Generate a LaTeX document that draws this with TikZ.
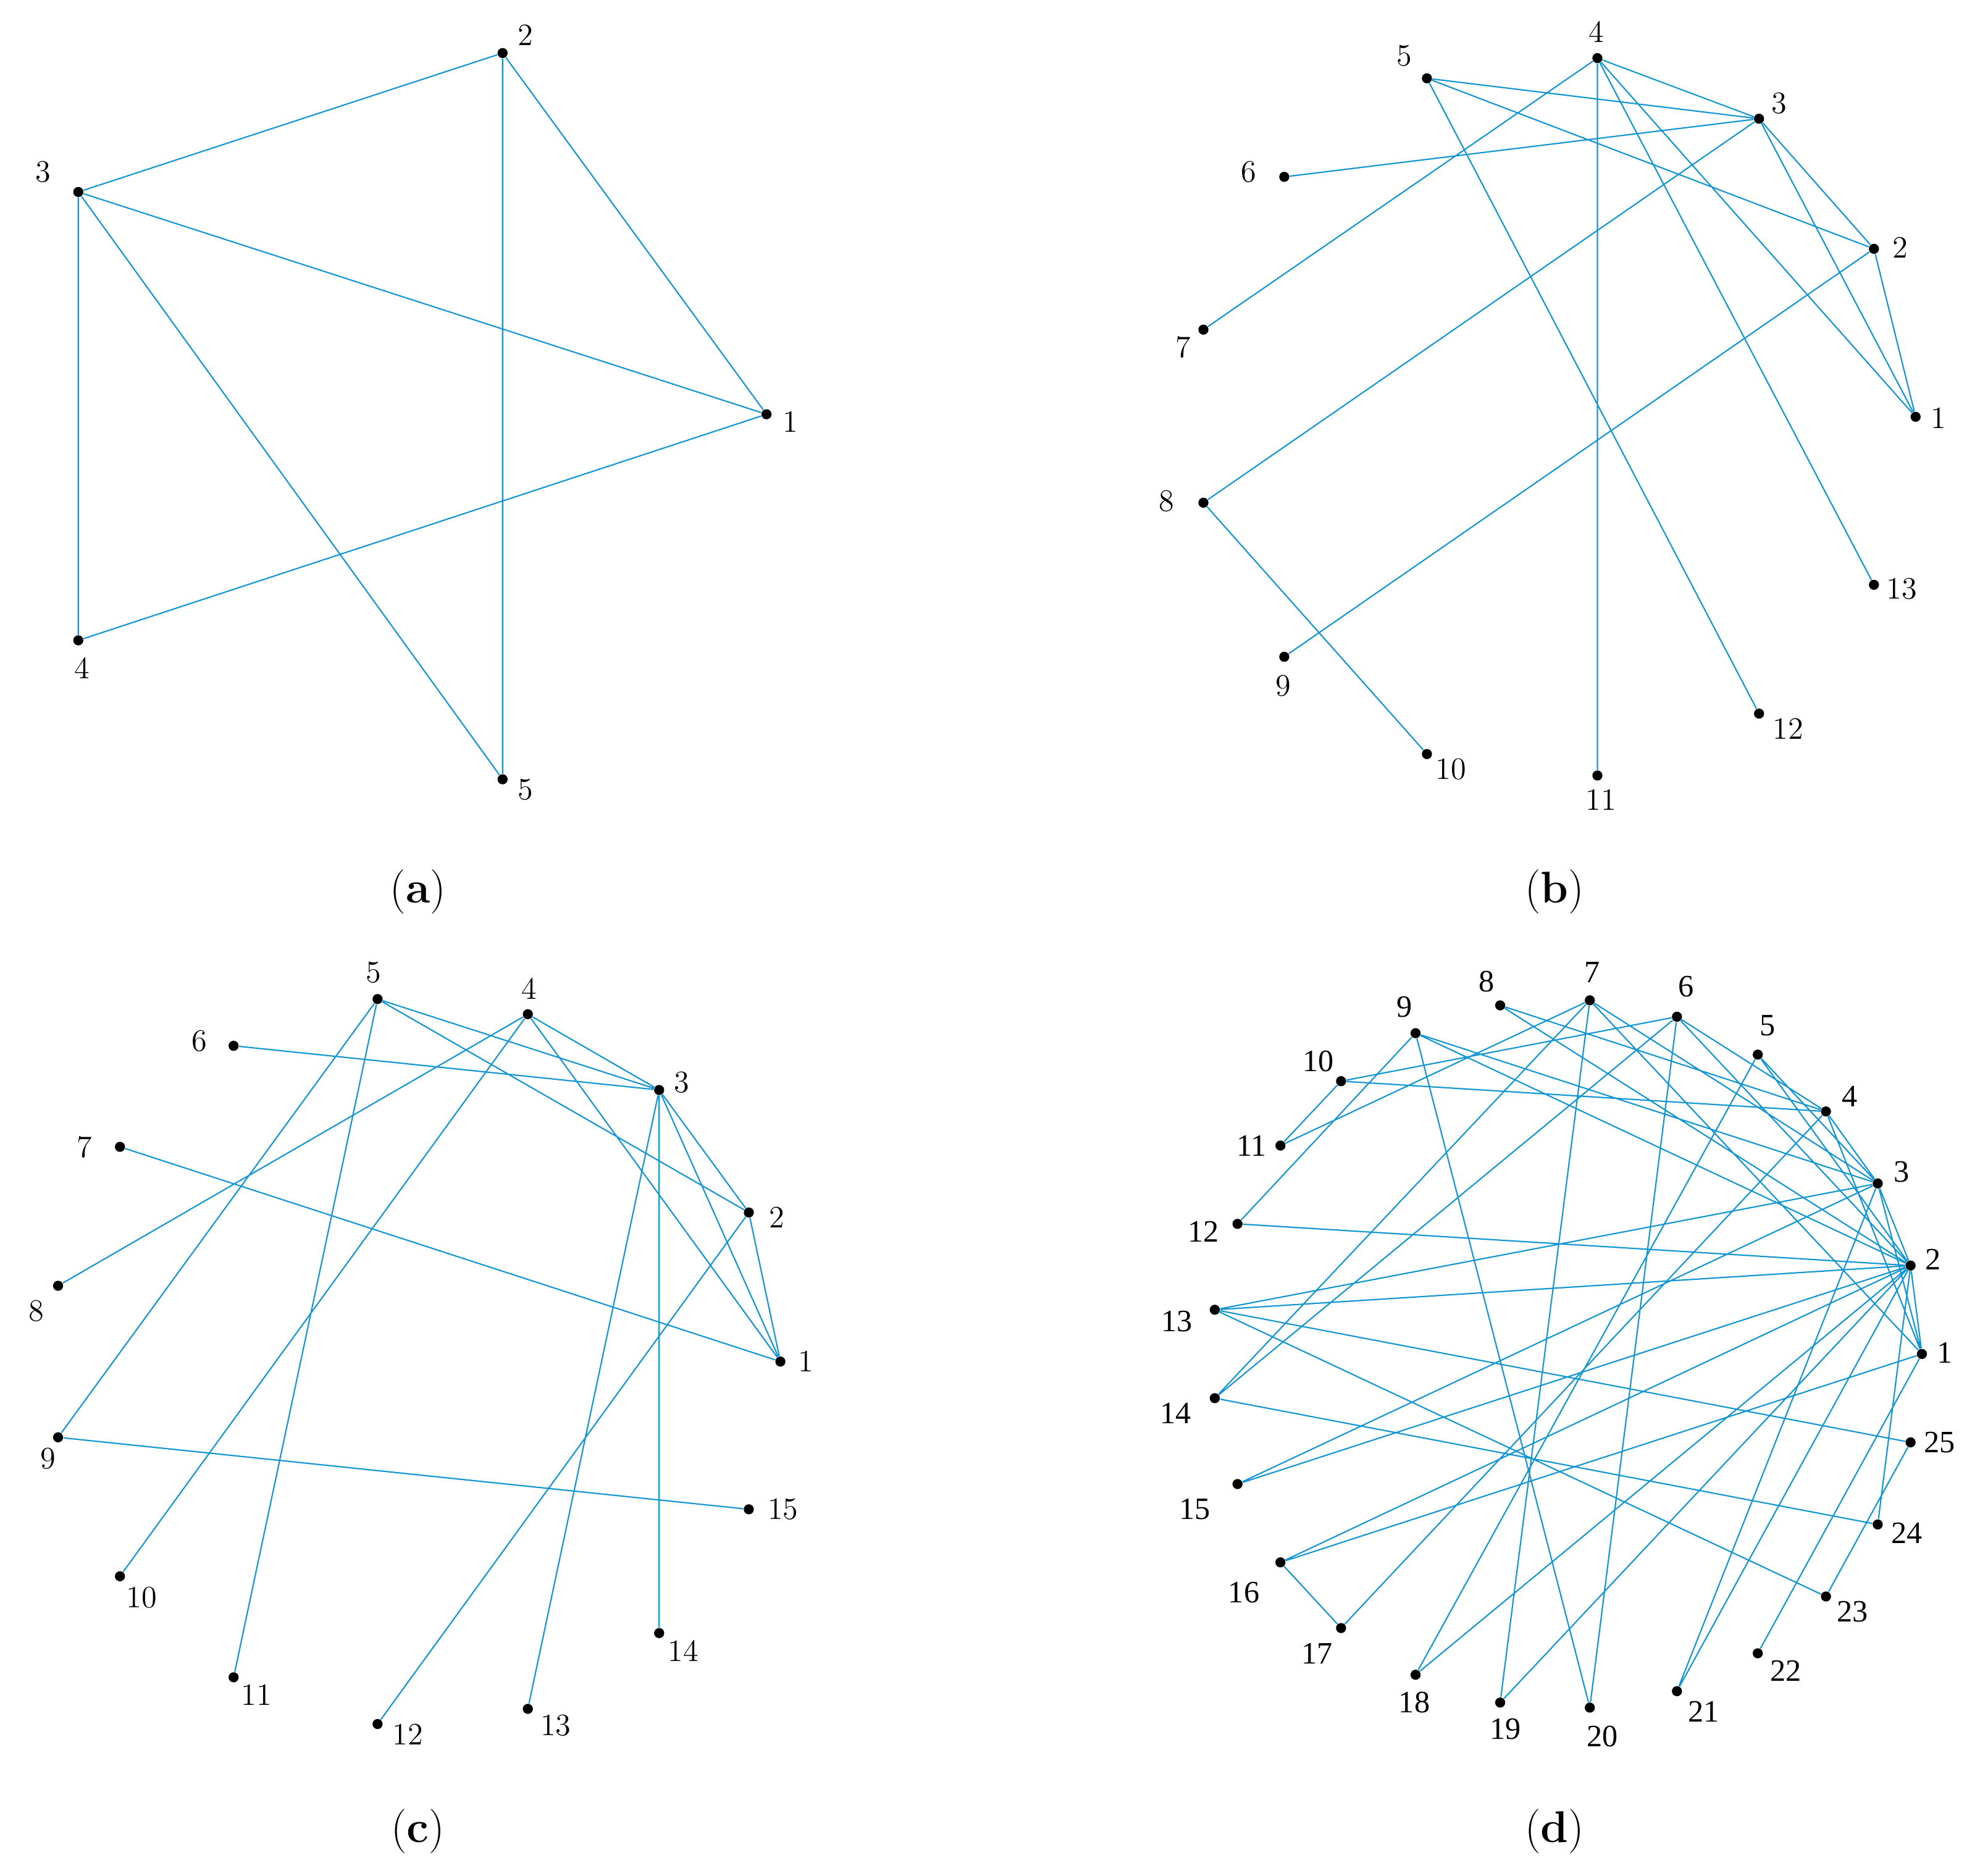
\documentclass[tikz,border=0pt]{standalone}
\usepackage{fontspec}
\newfontfamily\timesfont{Liberation Serif}
\definecolor{graphblue}{RGB}{20,150,210}
\tikzset{
  vtx/.style={circle, fill=black, inner sep=0pt, minimum size=1.6mm},
  link/.style={draw=graphblue, line width=0.6pt},
  num/.style={inner sep=0pt, font=\fontsize{14}{14}\selectfont},
  dnum/.style={inner sep=0pt, font=\timesfont\fontsize{14}{14}\selectfont},
  subcap/.style={inner sep=0pt, font=\fontsize{20}{20}\selectfont}
}
\begin{document}
\begin{tikzpicture}[x=0.2mm, y=-0.2mm]
\useasboundingbox (0,0) rectangle (1568,1485);

% (a)
\node [vtx] (a1) at (607,328) {};
\node [vtx] (a2) at (398,42) {};
\node [vtx] (a3) at (62,152) {};
\node [vtx] (a4) at (62,507) {};
\node [vtx] (a5) at (398,617) {};

\draw [link] (a3)--(a2) (a2)--(a1) (a2)--(a5) (a3)--(a1) (a3)--(a4) (a3)--(a5) (a4)--(a1);

\node [num] (a1l) at (626,334) {1};
\node [num] (a2l) at (416,28) {2};
\node [num] (a3l) at (34,136) {3};
\node [num] (a4l) at (65,529) {4};
\node [num] (a5l) at (416,625) {5};
\node [subcap] (acap) at (331,706) {(\textbf{a})};

% (b)
\node [vtx] (b1) at (1517,330) {};
\node [vtx] (b2) at (1484,197) {};
\node [vtx] (b3) at (1393,94) {};
\node [vtx] (b4) at (1265,46) {};
\node [vtx] (b5) at (1130,62) {};
\node [vtx] (b6) at (1017,140) {};
\node [vtx] (b7) at (953,261) {};
\node [vtx] (b8) at (953,398) {};
\node [vtx] (b9) at (1017,520) {};
\node [vtx] (b10) at (1130,597) {};
\node [vtx] (b11) at (1265,614) {};
\node [vtx] (b12) at (1393,565) {};
\node [vtx] (b13) at (1484,463) {};

\draw [link] (b4)--(b7) (b4)--(b3) (b4)--(b11) (b4)--(b13) (b4)--(b1)
  (b5)--(b3) (b5)--(b2) (b5)--(b12) (b3)--(b6) (b3)--(b8) (b3)--(b2)
  (b3)--(b1) (b2)--(b1) (b2)--(b9) (b8)--(b10);

\node [num] (b1l) at (1535,331) {1};
\node [num] (b2l) at (1505,196) {2};
\node [num] (b3l) at (1409,82) {3};
\node [num] (b4l) at (1264,25) {4};
\node [num] (b5l) at (1112,44) {5};
\node [num] (b6l) at (989,136) {6};
\node [num] (b7l) at (937,275) {7};
\node [num] (b8l) at (924,397) {8};
\node [num] (b9l) at (1016,543) {9};
\node [num] (b10l) at (1149,609) {10};
\node [num] (b11l) at (1268,633) {11};
\node [num] (b12l) at (1416,577) {12};
\node [num] (b13l) at (1506,466) {13};
\node [subcap] (bcap) at (1231,706) {(\textbf{b})};

% (c)
\node [vtx] (c1) at (618,1078) {};
\node [vtx] (c2) at (593,960) {};
\node [vtx] (c3) at (522,863) {};
\node [vtx] (c4) at (418,803) {};
\node [vtx] (c5) at (299,791) {};
\node [vtx] (c6) at (185,828) {};
\node [vtx] (c7) at (95,908) {};
\node [vtx] (c8) at (46,1018) {};
\node [vtx] (c9) at (46,1138) {};
\node [vtx] (c10) at (95,1248) {};
\node [vtx] (c11) at (185,1328) {};
\node [vtx] (c12) at (299,1365) {};
\node [vtx] (c13) at (418,1353) {};
\node [vtx] (c14) at (522,1293) {};
\node [vtx] (c15) at (593,1195) {};

\draw [link] (c5)--(c3) (c5)--(c2) (c5)--(c9) (c5)--(c11) (c4)--(c3)
  (c4)--(c8) (c4)--(c10) (c4)--(c1) (c6)--(c3) (c3)--(c2) (c3)--(c1)
  (c3)--(c13) (c3)--(c14) (c2)--(c1) (c2)--(c12) (c7)--(c1) (c9)--(c15);

\node [num] (c1l) at (638,1078) {1};
\node [num] (c2l) at (615,964) {2};
\node [num] (c3l) at (540,857) {3};
\node [num] (c4l) at (419,783) {4};
\node [num] (c5l) at (296,770) {5};
\node [num] (c6l) at (158,824) {6};
\node [num] (c7l) at (67,908) {7};
\node [num] (c8l) at (29,1038) {8};
\node [num] (c9l) at (38,1155) {9};
\node [num] (c10l) at (112,1265) {10};
\node [num] (c11l) at (203,1342) {11};
\node [num] (c12l) at (323,1373) {12};
\node [num] (c13l) at (440,1366) {13};
\node [num] (c14l) at (541,1307) {14};
\node [num] (c15l) at (620,1195) {15};
\node [subcap] (ccap) at (331,1450) {(\textbf{c})};

% (d)
\node [vtx] (d1) at (1522,1072) {};
\node [vtx] (d2) at (1513,1002) {};
\node [vtx] (d3) at (1487,937) {};
\node [vtx] (d4) at (1446,880) {};
\node [vtx] (d5) at (1392,835) {};
\node [vtx] (d6) at (1328,805) {};
\node [vtx] (d7) at (1259,792) {};
\node [vtx] (d8) at (1188,796) {};
\node [vtx] (d9) at (1121,818) {};
\node [vtx] (d10) at (1062,856) {};
\node [vtx] (d11) at (1014,907) {};
\node [vtx] (d12) at (980,969) {};
\node [vtx] (d13) at (962,1037) {};
\node [vtx] (d14) at (962,1107) {};
\node [vtx] (d15) at (980,1175) {};
\node [vtx] (d16) at (1014,1237) {};
\node [vtx] (d17) at (1062,1289) {};
\node [vtx] (d18) at (1121,1326) {};
\node [vtx] (d19) at (1188,1348) {};
\node [vtx] (d20) at (1259,1352) {};
\node [vtx] (d21) at (1328,1339) {};
\node [vtx] (d22) at (1392,1309) {};
\node [vtx] (d23) at (1446,1264) {};
\node [vtx] (d24) at (1487,1207) {};
\node [vtx] (d25) at (1513,1142) {};

\draw [link] (d10)--(d11) (d10)--(d6) (d10)--(d4) (d11)--(d7)
  (d9)--(d12) (d9)--(d20) (d9)--(d3) (d9)--(d2) (d12)--(d2)
  (d13)--(d3) (d13)--(d2) (d13)--(d25) (d13)--(d23)
  (d14)--(d7) (d14)--(d6) (d14)--(d24) (d15)--(d3) (d15)--(d2)
  (d16)--(d2) (d16)--(d1) (d16)--(d17) (d17)--(d4)
  (d18)--(d5) (d18)--(d2) (d19)--(d7) (d19)--(d2) (d20)--(d6)
  (d23)--(d25) (d8)--(d4) (d8)--(d2) (d4)--(d3) (d4)--(d1)
  (d7)--(d3) (d7)--(d1) (d6)--(d4) (d6)--(d2) (d5)--(d3) (d5)--(d2)
  (d21)--(d3) (d21)--(d2) (d22)--(d1) (d24)--(d2)
  (d3)--(d2) (d2)--(d1) (d3)--(d1);

\node [dnum] (d1l) at (1540,1071) {1};
\node [dnum] (d2l) at (1531,997) {2};
\node [dnum] (d3l) at (1506,928) {3};
\node [dnum] (d4l) at (1465,868) {4};
\node [dnum] (d5l) at (1400,812) {5};
\node [dnum] (d6l) at (1335,781) {6};
\node [dnum] (d7l) at (1261,770) {7};
\node [dnum] (d8l) at (1177,777) {8};
\node [dnum] (d9l) at (1112,797) {9};
\node [dnum] (d10l) at (1044,840) {10};
\node [dnum] (d11l) at (991,907) {11};
\node [dnum] (d12l) at (953,975) {12};
\node [dnum] (d13l) at (932,1046) {13};
\node [dnum] (d14l) at (931,1119) {14};
\node [dnum] (d15l) at (946,1195) {15};
\node [dnum] (d16l) at (985,1261) {16};
\node [dnum] (d17l) at (1043,1309) {17};
\node [dnum] (d18l) at (1120,1348) {18};
\node [dnum] (d19l) at (1192,1369) {19};
\node [dnum] (d20l) at (1269,1375) {20};
\node [dnum] (d21l) at (1349,1355) {21};
\node [dnum] (d22l) at (1414,1323) {22};
\node [dnum] (d23l) at (1467,1276) {23};
\node [dnum] (d24l) at (1510,1214) {24};
\node [dnum] (d25l) at (1536,1142) {25};
\node [subcap] (dcap) at (1231,1450) {(\textbf{d})};

\end{tikzpicture}
\end{document}
